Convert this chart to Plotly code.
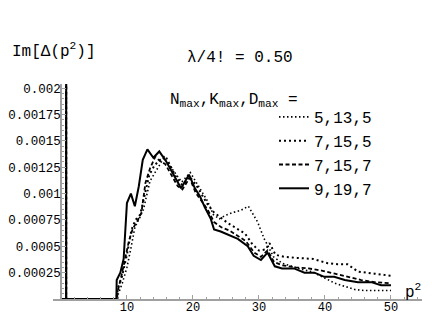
import plotly.graph_objects as go

# ---- data ----
labels = ["5,13,5", "7,15,5", "7,15,7", "9,19,7"]

x_5_13_5 = [0, 0.8, 0.8, 0.8, 8.6, 8.7, 9.3, 10.0, 10.6, 11.2, 12.0, 12.5, 13.5, 14.3, 15.0, 15.6, 16.3, 17.2, 18.3, 19.6,
            20.4, 21.1, 22.2, 23.1, 24.0, 24.8, 26.0, 27.2, 28.4, 29.8, 30.8, 31.4, 32.2, 33.5, 35.0, 36.5, 38.0, 40.0,
            41.5, 43.0, 44.5, 46.0, 48.0, 50.0]
y_5_13_5 = [0, 0, 0.0025, 0, 0, 0.00005, 0.00015, 0.0003, 0.00048, 0.00068, 0.00078, 0.00085, 0.00112, 0.0012, 0.00128,
            0.00134, 0.00128, 0.0012, 0.00111, 0.0012, 0.00112, 0.00104, 0.00093, 0.0008, 0.00076, 0.00079, 0.00082,
            0.00084, 0.00088, 0.00073, 0.00057, 0.0005, 0.0004, 0.00034, 0.00031, 0.00028, 0.00026, 0.0002, 0.00015,
            0.00012, 0.00009, 0.00008, 0.00008, 0.00008]

x_7_15_5 = [0, 0.8, 0.8, 0.8, 8.5, 8.6, 9.2, 10.0, 10.7, 11.3, 12.0, 12.7, 13.4, 14.2, 15.0, 15.8, 16.6, 17.5, 18.4, 19.5,
            20.5, 21.3, 22.2, 23.2, 24.2, 25.3, 26.6, 27.9, 29.0, 30.0, 31.0, 31.6, 32.5, 33.8, 35.8, 38.2, 40.4, 41.9,
            43.4, 45.0, 47.5, 50.0]
y_7_15_5 = [0, 0, 0.0025, 0, 0, 0.0001, 0.0002, 0.00042, 0.00066, 0.00075, 0.0008, 0.001, 0.00118, 0.00127, 0.00132,
            0.00136, 0.00126, 0.00115, 0.00108, 0.00116, 0.00108, 0.00099, 0.0009, 0.00082, 0.00077, 0.00072, 0.00067,
            0.00062, 0.00052, 0.00046, 0.00047, 0.00053, 0.00042, 0.0004, 0.00039, 0.00038, 0.00034, 0.00033, 0.00033,
            0.00026, 0.00024, 0.00022]

x_7_15_7 = [0, 0.8, 0.8, 0.8, 8.4, 8.5, 9.1, 9.7, 10.3, 10.9, 11.5, 12.2, 12.8, 13.5, 14.3, 15.0, 15.8, 16.7, 17.7, 18.4,
            19.5, 20.4, 21.3, 22.2, 23.2, 24.3, 25.5, 26.8, 28.0, 29.3, 30.3, 31.3, 32.3, 33.5, 35.5, 37.5, 39.5, 41.5,
            43.5, 45.5, 47.5, 50.0]
y_7_15_7 = [0, 0, 0.0025, 0, 0, 0.00005, 0.0002, 0.00036, 0.00055, 0.00067, 0.00073, 0.00082, 0.0011, 0.00124, 0.00135,
            0.00131, 0.00128, 0.00118, 0.00107, 0.00104, 0.00115, 0.00101, 0.00093, 0.00085, 0.00073, 0.00068, 0.00065,
            0.0006, 0.00055, 0.00044, 0.0004, 0.00046, 0.00035, 0.00032, 0.0003, 0.00029, 0.00027, 0.00024, 0.00021,
            0.00018, 0.00016, 0.00015]

x_9_19_7 = [0, 0.8, 0.8, 0.8, 8.4, 8.45, 9.0, 9.5, 10.0, 10.6, 11.2, 11.8, 12.4, 13.1, 14.0, 14.9, 16.0, 17.0, 18.2, 19.4,
            20.3, 21.1, 21.8, 22.7, 23.2, 24.2, 25.3, 26.8, 28.3, 29.2, 30.3, 31.3, 32.4, 33.5, 35.3, 36.9, 38.4, 39.9,
            41.4, 43.0, 45.0, 47.0, 48.5, 50.0]
y_9_19_7 = [0, 0, 0.0025, 0, 0, 0.00018, 0.00025, 0.00038, 0.00091, 0.001, 0.00088, 0.00107, 0.00132, 0.00142, 0.00134,
            0.0014, 0.0013, 0.00119, 0.00105, 0.00118, 0.00105, 0.00097, 0.00087, 0.00076, 0.00066, 0.00064, 0.00061,
            0.00057, 0.0005, 0.00041, 0.00037, 0.00044, 0.00031, 0.00029, 0.00029, 0.00025, 0.00025, 0.00021, 0.00021,
            0.00018, 0.00016, 0.00016, 0.00013, 0.00013]

x_tick_vals = [10, 20, 30, 40, 50]
x_tick_text = ["10", "20", "30", "40", "50"]
y_tick_vals = [0.00025, 0.0005, 0.00075, 0.001, 0.00125, 0.0015, 0.00175, 0.002]
y_tick_text = ["0.00025", "0.0005", "0.00075", "0.001", "0.00125", "0.0015", "0.00175", "0.002"]

xs = [x_5_13_5, x_7_15_5, x_7_15_7, x_9_19_7]
ys = [y_5_13_5, y_7_15_5, y_7_15_7, y_9_19_7]
dashes = ["1.5px,2.5px", "2px,3px", "4px,2.5px", "solid"]
widths = [1.6, 2.0, 1.8, 2.0]

# ---- layout geometry ----
# The page body has an 8px default margin, so the figure is drawn 8px right/down
# of the window origin; size it to the remaining visible area.
OFF = 8
W, H = 432 - OFF, 316 - OFF
ML, MR, MT, MB = 53 - OFF, 10, 84 - OFF, 17
XR = [-1.2, 54.7]
YR = [0, 0.00204]
PW, PH = W - ML - MR, H - MT - MB

def px(xp):  # window pixel -> paper fraction
    return (xp - OFF - ML) / PW

def py(yp):
    return (H - MB - (yp - OFF)) / PH

FONT = "Liberation Mono, Courier New, monospace"

fig = go.Figure()
for x, y, lab, d, w in zip(xs, ys, labels, dashes, widths):
    fig.add_trace(go.Scatter(x=x, y=y, mode="lines", name=lab,
                             line=dict(color="black", width=w, dash=d)))

fig.update_layout(
    width=W, height=H,
    margin=dict(l=ML, r=MR, t=MT, b=MB, autoexpand=False),
    paper_bgcolor="white", plot_bgcolor="white",
    font=dict(family=FONT, size=12, color="black"),
    showlegend=True,
    legend=dict(x=px(274), y=py(100), xanchor="left", yanchor="top",
                font=dict(family=FONT, size=16, color="black"),
                bgcolor="rgba(0,0,0,0)", borderwidth=0, tracegroupgap=0,
                itemwidth=30),
    xaxis=dict(range=XR, showgrid=False, zeroline=False, showline=True, automargin=False,
               linecolor="#a0a0a0", linewidth=1.5,
               tickmode="array", tickvals=x_tick_vals, ticktext=x_tick_text,
               ticks="inside", ticklen=4, tickcolor="#a0a0a0", ticklabelstandoff=-4,
               minor=dict(tickmode="linear", dtick=2, ticklen=2, tickcolor="#a0a0a0", ticks="inside"),
               tickfont=dict(family=FONT, size=12, color="black")),
    yaxis=dict(range=YR, showgrid=False, zeroline=False, showline=True, automargin=False,
               linecolor="#a0a0a0", linewidth=1.5,
               anchor="free", position=(0 - XR[0]) / (XR[1] - XR[0]),
               tickmode="array", tickvals=y_tick_vals, ticktext=y_tick_text,
               ticks="inside", ticklen=4, tickcolor="#a0a0a0", ticklabelstandoff=-3,
               minor=dict(tickmode="linear", dtick=0.00005, ticklen=2, tickcolor="#a0a0a0", ticks="inside"),
               tickfont=dict(family=FONT, size=12.5, color="black")),
)

ann = [
    ("Im[Δ(p<sup>2</sup>)]", 10, 51, "left", 16),
    ("λ/4! = 0.50", 240, 58, "center", 16),
    ("N<sub>max</sub>,K<sub>max</sub>,D<sub>max</sub> =", 168, 100, "left", 16),
    ("p<sup>2</sup>", 413, 291, "center", 16),
]
for text, xp, yp, anc, fs in ann:
    fig.add_annotation(text=text, x=px(xp), y=py(yp), xref="paper", yref="paper",
                       xanchor=anc, yanchor="middle", showarrow=False,
                       font=dict(family=FONT, size=fs, color="black"))

fig.write_html("out.html")
